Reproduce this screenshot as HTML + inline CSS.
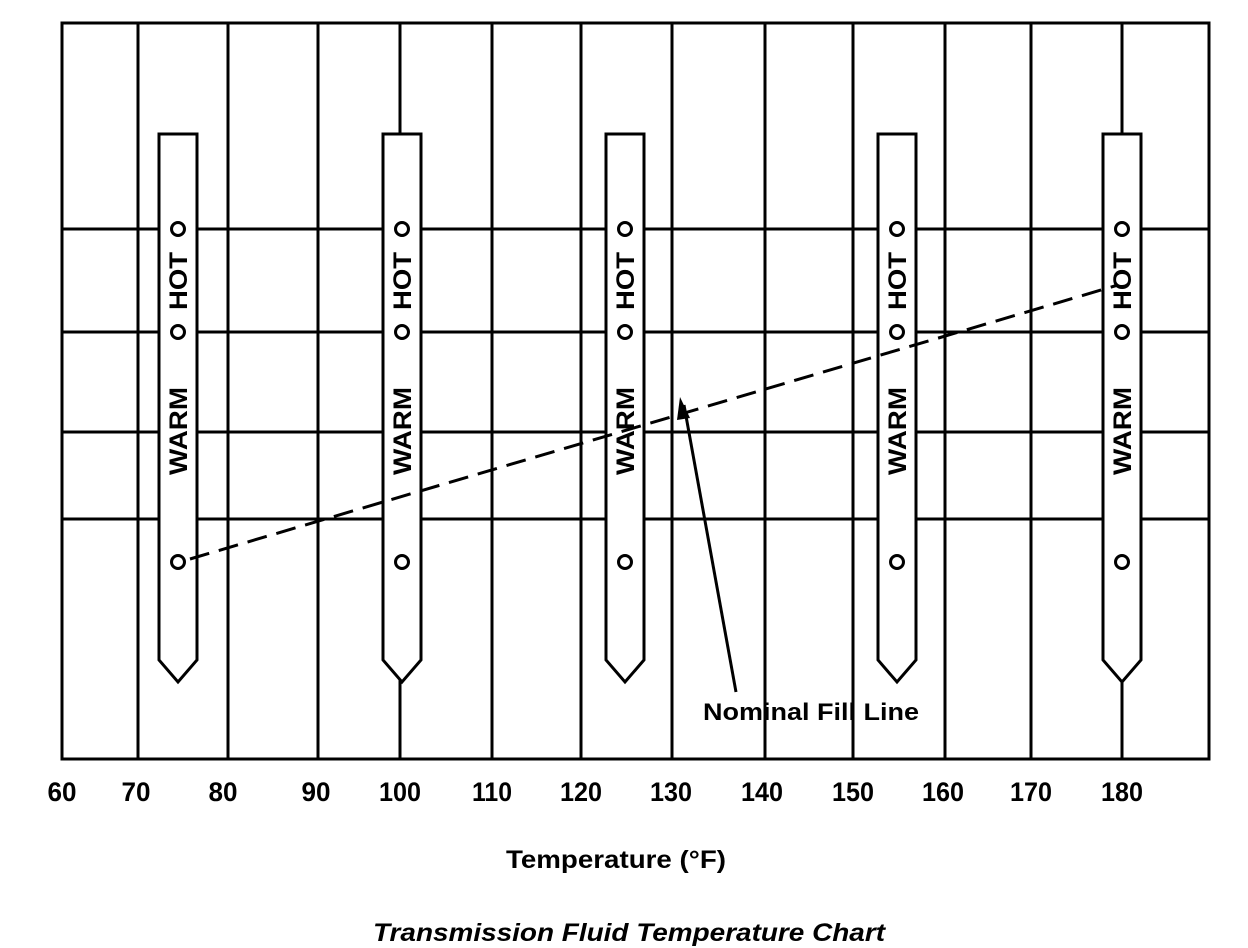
<!DOCTYPE html>
<html><head><style>body{margin:0;background:#fff}svg{display:block}</style></head>
<body>
<svg width="1248" height="948" viewBox="0 0 1248 948" xmlns="http://www.w3.org/2000/svg" font-family="Liberation Sans, Arial, sans-serif">
<g stroke="#000" stroke-width="3" fill="none">
<rect x="62" y="23" width="1147" height="736"/>
<line x1="138" y1="23" x2="138" y2="759"/>
<line x1="228" y1="23" x2="228" y2="759"/>
<line x1="318" y1="23" x2="318" y2="759"/>
<line x1="400" y1="23" x2="400" y2="759"/>
<line x1="492" y1="23" x2="492" y2="759"/>
<line x1="581" y1="23" x2="581" y2="759"/>
<line x1="672" y1="23" x2="672" y2="759"/>
<line x1="765" y1="23" x2="765" y2="759"/>
<line x1="853" y1="23" x2="853" y2="759"/>
<line x1="945" y1="23" x2="945" y2="759"/>
<line x1="1031" y1="23" x2="1031" y2="759"/>
<line x1="1122" y1="23" x2="1122" y2="759"/>
<line x1="62" y1="229" x2="1209" y2="229"/>
<line x1="62" y1="332" x2="1209" y2="332"/>
<line x1="62" y1="432" x2="1209" y2="432"/>
<line x1="62" y1="519" x2="1209" y2="519"/>
</g>
<g stroke="#000" stroke-width="3" fill="#fff">
<path d="M159 134 H197 V660 L178 682 L159 660 Z"/>
<circle cx="178" cy="229" r="6.5"/><circle cx="178" cy="332" r="6.5"/><circle cx="178" cy="562" r="6.5"/>
<path d="M383 134 H421 V660 L402 682 L383 660 Z"/>
<circle cx="402" cy="229" r="6.5"/><circle cx="402" cy="332" r="6.5"/><circle cx="402" cy="562" r="6.5"/>
<path d="M606 134 H644 V660 L625 682 L606 660 Z"/>
<circle cx="625" cy="229" r="6.5"/><circle cx="625" cy="332" r="6.5"/><circle cx="625" cy="562" r="6.5"/>
<path d="M878 134 H916 V660 L897 682 L878 660 Z"/>
<circle cx="897" cy="229" r="6.5"/><circle cx="897" cy="332" r="6.5"/><circle cx="897" cy="562" r="6.5"/>
<path d="M1103 134 H1141 V660 L1122 682 L1103 660 Z"/>
<circle cx="1122" cy="229" r="6.5"/><circle cx="1122" cy="332" r="6.5"/><circle cx="1122" cy="562" r="6.5"/>
</g>
<g font-size="25" font-weight="bold" text-anchor="middle" fill="#000">
<text transform="translate(187,281) rotate(-90)" textLength="58" lengthAdjust="spacingAndGlyphs">HOT</text>
<text transform="translate(187,431) rotate(-90)" textLength="88" lengthAdjust="spacingAndGlyphs">WARM</text>
<text transform="translate(411,281) rotate(-90)" textLength="58" lengthAdjust="spacingAndGlyphs">HOT</text>
<text transform="translate(411,431) rotate(-90)" textLength="88" lengthAdjust="spacingAndGlyphs">WARM</text>
<text transform="translate(634,281) rotate(-90)" textLength="58" lengthAdjust="spacingAndGlyphs">HOT</text>
<text transform="translate(634,431) rotate(-90)" textLength="88" lengthAdjust="spacingAndGlyphs">WARM</text>
<text transform="translate(906,281) rotate(-90)" textLength="58" lengthAdjust="spacingAndGlyphs">HOT</text>
<text transform="translate(906,431) rotate(-90)" textLength="88" lengthAdjust="spacingAndGlyphs">WARM</text>
<text transform="translate(1131,281) rotate(-90)" textLength="58" lengthAdjust="spacingAndGlyphs">HOT</text>
<text transform="translate(1131,431) rotate(-90)" textLength="88" lengthAdjust="spacingAndGlyphs">WARM</text>
</g>
<line x1="190" y1="559" x2="1118" y2="285" stroke="#000" stroke-width="3" stroke-dasharray="20,10"/>
<line x1="736" y1="692" x2="684" y2="405" stroke="#000" stroke-width="3"/>
<path d="M680 397 L677 420 L690 418 Z" fill="#000"/>
<text x="811" y="720" font-size="24" font-weight="bold" text-anchor="middle" textLength="216" lengthAdjust="spacingAndGlyphs">Nominal Fill Line</text>
<g font-size="27" font-weight="bold" text-anchor="middle">
<text x="62" y="801" textLength="29" lengthAdjust="spacingAndGlyphs">60</text><text x="136" y="801" textLength="29" lengthAdjust="spacingAndGlyphs">70</text><text x="223" y="801" textLength="29" lengthAdjust="spacingAndGlyphs">80</text>
<text x="316" y="801" textLength="29" lengthAdjust="spacingAndGlyphs">90</text><text x="400" y="801" textLength="42" lengthAdjust="spacingAndGlyphs">100</text><text x="492" y="801" textLength="40" lengthAdjust="spacingAndGlyphs">110</text>
<text x="581" y="801" textLength="42" lengthAdjust="spacingAndGlyphs">120</text><text x="671" y="801" textLength="42" lengthAdjust="spacingAndGlyphs">130</text><text x="762" y="801" textLength="42" lengthAdjust="spacingAndGlyphs">140</text>
<text x="853" y="801" textLength="42" lengthAdjust="spacingAndGlyphs">150</text><text x="943" y="801" textLength="42" lengthAdjust="spacingAndGlyphs">160</text><text x="1031" y="801" textLength="42" lengthAdjust="spacingAndGlyphs">170</text>
<text x="1122" y="801" textLength="42" lengthAdjust="spacingAndGlyphs">180</text>
</g>
<text x="616" y="868" font-size="25" font-weight="bold" text-anchor="middle" textLength="220" lengthAdjust="spacingAndGlyphs">Temperature (°F)</text>
<text x="629" y="941" font-size="25" font-weight="bold" font-style="italic" text-anchor="middle" textLength="512" lengthAdjust="spacingAndGlyphs">Transmission Fluid Temperature Chart</text>
</svg>
</body></html>
